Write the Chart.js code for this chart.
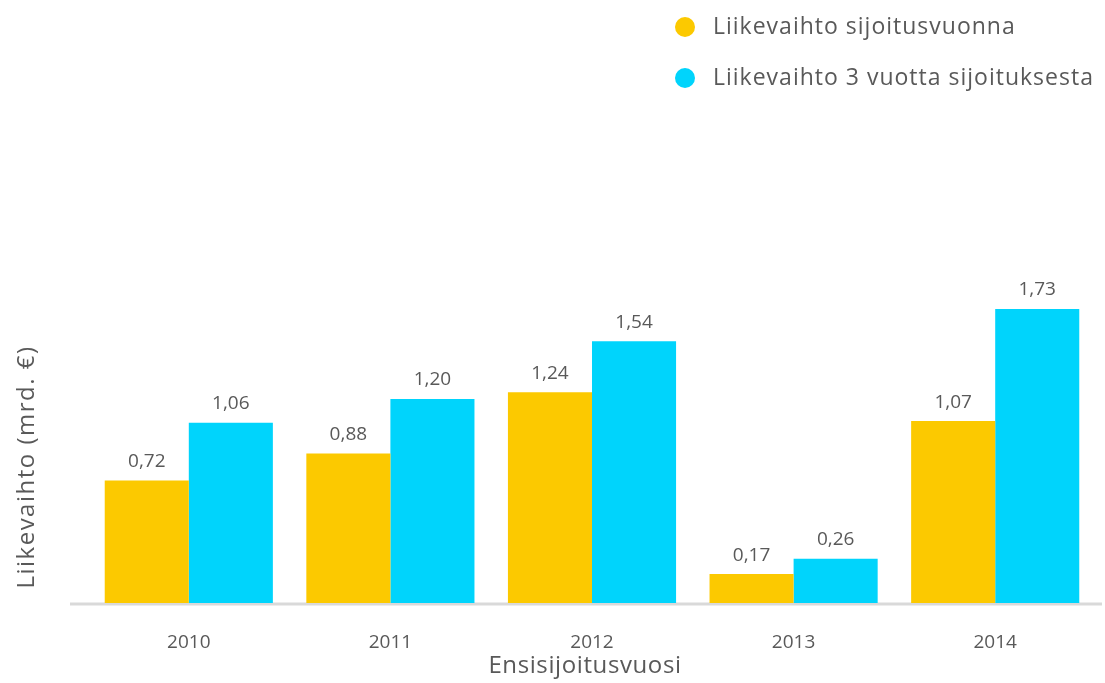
<!DOCTYPE html>
<html>
<head>
<meta charset="utf-8">
<script src="https://cdn.jsdelivr.net/npm/chart.js@4"></script>
<style>
  html, body { margin: 0; padding: 0; background: #ffffff; }
  #wrap { width: 1105px; height: 683px; position: relative; }
</style>
</head>
<body>
<div id="wrap"><canvas id="revenueChart"></canvas></div>
<script>
// Ensisijoitusvuodet ja liikevaihdot (mrd. €)
const years = ['2010', '2011', '2012', '2013', '2014'];
const revenueFirstYear = [0.72, 0.88, 1.24, 0.17, 1.07];
const revenueAfter3Years = [1.06, 1.20, 1.54, 0.26, 1.73];
const seriesLabels = ['Liikevaihto sijoitusvuonna', 'Liikevaihto 3 vuotta sijoituksesta'];
const yTitle = 'Liikevaihto (mrd. €)';
const xTitle = 'Ensisijoitusvuosi';

const FONT = "'Open Sans'";
const TEXT = '#595959';

// Arvot palkkien päälle, pilkku desimaalierottimena
const valueLabels = {
    id: 'valueLabels',
    afterDatasetsDraw(chart) {
        const ctx = chart.ctx;
        ctx.save();
        ctx.fillStyle = TEXT;
        ctx.font = '19px ' + FONT;
        ctx.textAlign = 'center';
        ctx.textBaseline = 'middle';
        chart.data.datasets.forEach((ds, di) => {
            chart.getDatasetMeta(di).data.forEach((bar, i) => {
                ctx.fillText(ds.data[i].toFixed(2).replace('.', ','), bar.x, bar.y - 19);
            });
        });
        ctx.restore();
    }
};

// Akseliviiva, akselien otsikot ja selite
const decorations = {
    id: 'decorations',
    beforeDatasetsDraw(chart) {
        const ctx = chart.ctx;
        const y = chart.scales.y.getPixelForValue(0);
        ctx.save();
        ctx.strokeStyle = '#d9d9d9';
        ctx.lineWidth = 3;
        ctx.beginPath();
        ctx.moveTo(70, y + 1);
        ctx.lineTo(1102, y + 1);
        ctx.stroke();
        ctx.restore();
    },
    afterDraw(chart) {
        const ctx = chart.ctx;

        // y-akselin otsikko
        ctx.save();
        ctx.translate(27, 467);
        ctx.rotate(-Math.PI / 2);
        ctx.fillStyle = TEXT;
        ctx.font = '24px ' + FONT;
        ctx.letterSpacing = '1.5px';
        ctx.textAlign = 'center';
        ctx.textBaseline = 'middle';
        ctx.fillText(yTitle, 0, 0);
        ctx.restore();

        // x-akselin otsikko
        ctx.save();
        ctx.fillStyle = TEXT;
        ctx.font = '24px ' + FONT;
        ctx.letterSpacing = '0.6px';
        ctx.textAlign = 'center';
        ctx.textBaseline = 'middle';
        ctx.fillText(xTitle, 585, 666);
        ctx.restore();

        // selite
        ctx.save();
        ctx.font = '23px ' + FONT;
        ctx.letterSpacing = '1px';
        ctx.textBaseline = 'middle';
        chart.data.datasets.forEach((ds, i) => {
            const cy = 27 + i * 51;
            ctx.fillStyle = ds.backgroundColor;
            ctx.beginPath();
            ctx.arc(685, cy, 10, 0, Math.PI * 2);
            ctx.fill();
            ctx.fillStyle = TEXT;
            ctx.fillText(ds.label, 713, cy);
        });
        ctx.restore();
    }
};

new Chart(document.getElementById('revenueChart'), {
    type: 'bar',
    data: {
        labels: years,
        datasets: [
            {
                label: seriesLabels[0],
                data: revenueFirstYear,
                backgroundColor: '#fcc900',
                categoryPercentage: 0.834,
                barPercentage: 1.0
            },
            {
                label: seriesLabels[1],
                data: revenueAfter3Years,
                backgroundColor: '#00d4fc',
                categoryPercentage: 0.834,
                barPercentage: 1.0
            }
        ]
    },
    options: {
        responsive: true,
        maintainAspectRatio: false,
        animation: false,
        layout: {
            padding: { top: 263, left: 88, right: 9, bottom: 3 }
        },
        plugins: {
            legend: { display: false },
            tooltip: { enabled: false }
        },
        scales: {
            x: {
                grid: { display: false, drawTicks: false },
                border: { display: false },
                ticks: {
                    padding: 28,
                    color: TEXT,
                    font: { family: FONT, size: 19 }
                },
                afterFit(scale) {
                    scale.height = 77;
                }
            },
            y: {
                display: false,
                min: 0,
                max: 2.0
            }
        }
    },
    plugins: [valueLabels, decorations]
});
</script>
</body>
</html>
